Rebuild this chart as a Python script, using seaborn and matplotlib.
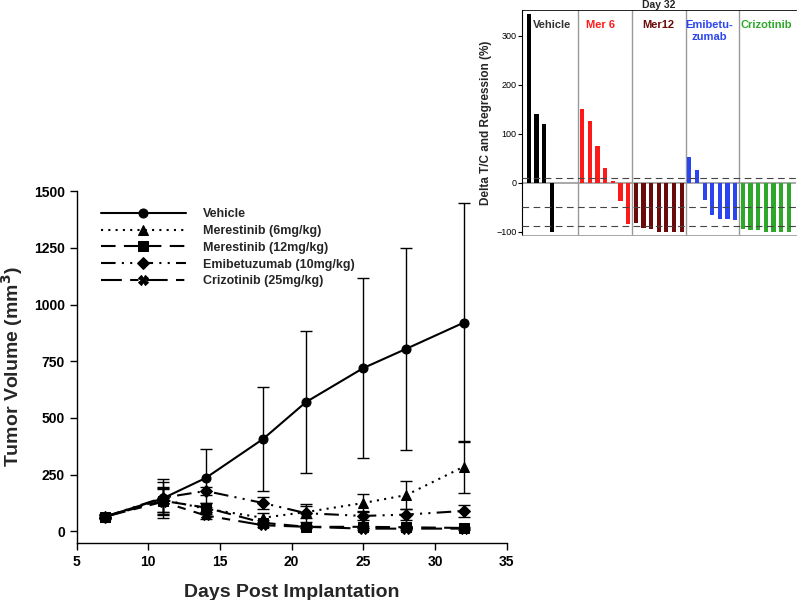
import numpy as np
import pandas as pd
import matplotlib
matplotlib.use('Agg')
import matplotlib.pyplot as plt
import seaborn as sns

sns.set_theme(style='ticks')
plt.rcParams['font.family'] = ['Liberation Sans', 'DejaVu Sans']

# main growth curves
days = [7, 11, 14, 18, 21, 25, 28, 32]
series_names = ['Vehicle', 'Merestinib (6mg/kg)', 'Merestinib (12mg/kg)',
                'Emibetuzumab (10mg/kg)', 'Crizotinib (25mg/kg)']
vehicle = [65, 145, 235, 407, 570, 720, 805, 920]
vehicle_err = [10, 85, 128, 228, 314, 398, 446, 528]
mer6 = [65, 140, 100, 60, 85, 125, 160, 285]
mer6_err = [8, 55, 25, 20, 25, 40, 62, 114]
mer12 = [65, 135, 105, 38, 20, 20, 18, 15]
mer12_err = [8, 50, 20, 10, 6, 5, 4, 4]
emi = [65, 148, 178, 125, 80, 68, 74, 90]
emi_err = [8, 70, 18, 28, 40, 20, 25, 28]
criz = [65, 130, 70, 27, 20, 12, 12, 12]
criz_err = [8, 60, 15, 8, 5, 4, 4, 4]

# inset waterfall (Day 32)
groups = ['Vehicle', 'Mer 6', 'Mer12', 'Emibetu-\nzumab', 'Crizotinib']
group_colors = ['#000000', '#ff1a1a', '#6b0a0a', '#2a45f0', '#2ea82a']
text_colors = ['#333333', '#ff1a1a', '#6b0a0a', '#2a45f0', '#2ea82a']
wf_vehicle = [345, 140, 120, -100]
wf_mer6 = [150, 125, 75, 30, 3, -37, -85]
wf_mer12 = [-82, -93, -95, -100, -100, -100, -100]
wf_emi = [52, 25, -35, -65, -73, -74, -77]
wf_criz = [-94, -96, -97, -100, -100, -100, -100]
thresholds = [10, -50, -89]

values = [vehicle, mer6, mer12, emi, criz]
errors = [vehicle_err, mer6_err, mer12_err, emi_err, criz_err]
rows = []
for name, vals in zip(series_names, values):
    for d, v in zip(days, vals):
        rows.append({'Day': d, 'Volume': v, 'Group': name})
df = pd.DataFrame(rows)

fig = plt.figure(figsize=(7.98, 6.0), dpi=100)
ax = fig.add_axes([0.096, 0.0955, 0.539, 0.586])

markers = dict(zip(series_names, ['o', '^', 's', 'D', 'X']))
dashes = dict(zip(series_names, ['', (1, 2.5), (7, 4), (7, 3, 1, 3, 1, 3), (10, 4, 4, 4)]))

sns.lineplot(data=df, x='Day', y='Volume', style='Group', markers=markers,
             dashes=dashes, color='black', linewidth=1.5, markersize=6.5,
             markeredgecolor='black', ax=ax, legend=True)

for vals, err in zip(values, errors):
    ax.errorbar(days, vals, yerr=err, fmt='none', ecolor='black',
                elinewidth=1.0, capsize=4, capthick=1.0)

ax.set_xlim(5, 35)
ax.set_ylim(-50, 1500)
ax.set_xticks([5, 10, 15, 20, 25, 30, 35])
ax.set_yticks([0, 250, 500, 750, 1000, 1250, 1500])
for lab in ax.get_xticklabels() + ax.get_yticklabels():
    lab.set_fontweight('bold')
    lab.set_fontsize(10)
ax.tick_params(direction='out', length=5, width=1, colors='black')
ax.spines['top'].set_visible(False)
ax.spines['right'].set_visible(False)
for s in ['left', 'bottom']:
    ax.spines[s].set_color('black')
    ax.spines[s].set_linewidth(1)
ax.set_xlabel('Days Post Implantation', fontsize=14, fontweight='bold', labelpad=11)
ax.set_ylabel('Tumor Volume (mm$^\\mathbf{3}$)', fontsize=14, fontweight='bold', labelpad=6)

handles, labels = ax.get_legend_handles_labels()
leg = ax.legend(handles, labels, loc='upper left', bbox_to_anchor=(0.03, 0.983),
                frameon=False, handlelength=6.8, handletextpad=1.4,
                labelspacing=0.38, prop={'weight': 'bold', 'size': 9})

# inset
wf_values = [wf_vehicle, wf_mer6, wf_mer12, wf_emi, wf_criz]
wrows = []
for g, (name, vals) in enumerate(zip(groups, wf_values)):
    for i, v in enumerate(vals):
        wrows.append({'slot': 7 * g + i, 'value': v, 'group': name})
wdf = pd.DataFrame(wrows)

ax2 = fig.add_axes([0.654, 0.608, 0.343, 0.375])
sns.barplot(data=wdf, x='slot', y='value', hue='group', palette=group_colors,
            order=list(range(35)), dodge=False, width=0.55, saturation=1,
            linewidth=0, legend=False, ax=ax2)
ax2.set_xlim(-0.9, 34.9)
ax2.set_ylim(-107, 352)
ax2.axhline(0, color='#999999', lw=1.2, zorder=0)
for t in thresholds:
    ax2.axhline(t, color='#444444', lw=0.8, ls=(0, (6, 4)), zorder=3)
for xd in [6.5, 13.5, 20.5, 27.5]:
    ax2.axvline(xd, color='#999999', lw=1.0, zorder=0)
label_pos = [(0.6, 'left'), (7.5, 'left'), (14.8, 'left'), (23.6, 'center'), (27.7, 'left')]
for (xp, ha), name, c in zip(label_pos, groups, text_colors):
    ax2.text(xp, 332, name, color=c, fontsize=8, fontweight='bold', ha=ha, va='top',
             linespacing=1.25)
ax2.set_xticks([])
ax2.set_xlabel('')
ax2.set_yticks([-100, 0, 100, 200, 300])
ax2.tick_params(axis='y', labelsize=6.5, length=3, width=0.8, pad=1, colors='black')
ax2.set_ylabel('Delta T/C and Regression (%)', fontsize=8.5, fontweight='bold', labelpad=3)
ax2.set_title('Day 32', fontsize=7.5, fontweight='bold', pad=1)
ax2.spines['right'].set_visible(False)
ax2.spines['left'].set_color('black')
ax2.spines['left'].set_linewidth(0.8)
ax2.spines['top'].set_color('black')
ax2.spines['top'].set_linewidth(0.6)
ax2.spines['bottom'].set_color('#999999')
ax2.spines['bottom'].set_linewidth(0.6)

fig.savefig('out.png', dpi=100)
